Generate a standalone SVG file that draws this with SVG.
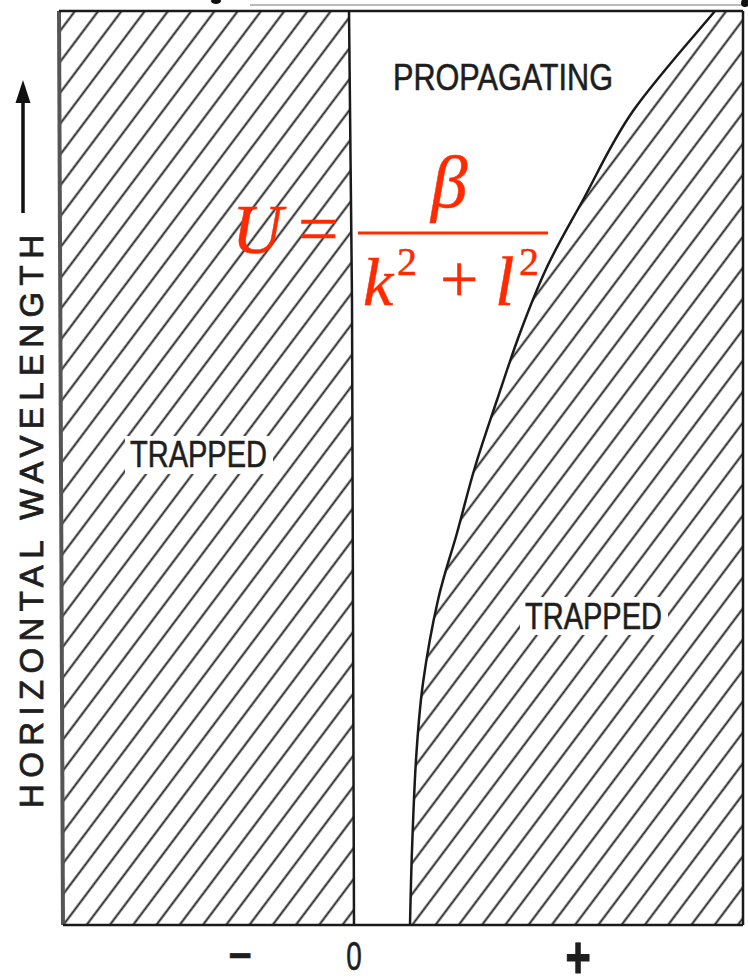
<svg xmlns="http://www.w3.org/2000/svg" width="748" height="979" viewBox="0 0 748 979">
  <style>
    .lbl { font-family: "Liberation Sans", Arial, Helvetica, sans-serif; fill: #1e1e1e; stroke: #1e1e1e; stroke-width: 0.6; }
    .eq { font-family: "Liberation Serif", "Times New Roman", serif; fill: #ff2a00; stroke: #ff2a00; stroke-width: 0.5; }
    .it { font-style: italic; }
    .edge { fill: none; stroke: #1a1a1a; stroke-width: 2.5; stroke-linejoin: round; }
  </style>
  <defs>
    <pattern id="hatch" patternUnits="userSpaceOnUse" width="40" height="18.6" patternTransform="rotate(-53.1) translate(0,1.5)">
      <line x1="-1" y1="9.3" x2="41" y2="9.3" stroke="#222" stroke-width="2.1"/>
    </pattern>
  </defs>
  <rect x="0" y="0" width="748" height="979" fill="#ffffff"/>

  <!-- stray marks at top -->
  <line x1="250" y1="5" x2="742" y2="5" stroke="#bbbbbb" stroke-width="2"/>
  <ellipse cx="216" cy="1" rx="5" ry="3" fill="#111"/>
  <circle cx="745" cy="3" r="4" fill="#111"/>

  <g id="trapped-left">
    <path d="M59,11 L349,11 L352,300 L354,925 L63,925 Z" fill="url(#hatch)"/>
    <path d="M59,11 L63,925" fill="none" stroke="#555" stroke-width="4"/>
    <path d="M349,11 L352,300 L354,925" class="edge"/>
    <rect x="125" y="436" width="148" height="38" fill="#fff"/>
    <text class="lbl" x="130" y="467" font-size="36" textLength="137" lengthAdjust="spacingAndGlyphs">TRAPPED</text>
  </g>

  <g id="trapped-right">
    <path d="M715,11 C701.3,27.7 655,79.5 633,111 C611,142.5 597.3,174 583,200 C568.7,226 557.5,244.8 547,267 C536.5,289.2 528.3,310.8 520,333 C511.7,355.2 504.5,377.7 497,400 C489.5,422.3 481.7,444.8 475,467 C468.3,489.2 463.2,510.8 457,533 C450.8,555.2 443.7,575 438,600 C432.3,625 426.7,656.3 423,683 C419.3,709.7 417.8,732.2 416,760 C414.2,787.8 413,822.5 412,850 C411,877.5 410.3,912.5 410,925 L743,925 L743,11 Z" fill="url(#hatch)"/>
    <path d="M715,11 C701.3,27.7 655,79.5 633,111 C611,142.5 597.3,174 583,200 C568.7,226 557.5,244.8 547,267 C536.5,289.2 528.3,310.8 520,333 C511.7,355.2 504.5,377.7 497,400 C489.5,422.3 481.7,444.8 475,467 C468.3,489.2 463.2,510.8 457,533 C450.8,555.2 443.7,575 438,600 C432.3,625 426.7,656.3 423,683 C419.3,709.7 417.8,732.2 416,760 C414.2,787.8 413,822.5 412,850 C411,877.5 410.3,912.5 410,925" class="edge"/>
    <path d="M743,11 L743,925" class="edge"/>
    <rect x="520" y="597" width="148" height="38" fill="#fff"/>
    <text class="lbl" x="525" y="629" font-size="36" textLength="137" lengthAdjust="spacingAndGlyphs">TRAPPED</text>
  </g>

  <g id="frame">
    <path d="M59,11 L743,11" class="edge"/>
    <path d="M63,925 L743,925" class="edge"/>
  </g>

  <g id="propagating">
    <text class="lbl" x="393" y="90" font-size="37" textLength="220" lengthAdjust="spacingAndGlyphs">PROPAGATING</text>
  </g>

  <g id="equation">
    <text class="eq it" x="232" y="253" font-size="70">U</text>
    <text class="eq" x="298" y="253" font-size="72">=</text>
    <line x1="358" y1="233" x2="548" y2="233" stroke="#ff2a00" stroke-width="3"/>
    <text class="eq it" x="431" y="207" font-size="73">β</text>
    <text class="eq it" x="363" y="305" font-size="68">k</text>
    <text class="eq" x="397" y="275" font-size="40">2</text>
    <text class="eq" x="440" y="302" font-size="68">+</text>
    <text class="eq it" x="495" y="305" font-size="70">l</text>
    <text class="eq" x="519" y="275" font-size="40">2</text>
  </g>

  <g id="y-axis-label">
    <text class="lbl" transform="translate(43,808) rotate(-90)" x="0" y="0" font-size="33" textLength="573" lengthAdjust="spacing" style="stroke-width:0.8">HORIZONTAL WAVELENGTH</text>
  </g>

  <g id="x-axis-labels">
    <text class="lbl" x="240" y="969" font-size="40" font-weight="bold" text-anchor="middle">−</text>
    <text class="lbl" transform="translate(354,970) scale(0.68,1)" x="0" y="0" font-size="41" text-anchor="middle">0</text>
    <text class="lbl" transform="translate(578,978) scale(1,1.35)" x="0" y="0" font-size="44" font-weight="bold" text-anchor="middle">+</text>
  </g>

  <g id="connectors">
    <line x1="23" y1="213" x2="23" y2="98" stroke="#111" stroke-width="3.5"/>
    <polygon points="23,80 15.5,103 30.5,103" fill="#111"/>
  </g>
</svg>
